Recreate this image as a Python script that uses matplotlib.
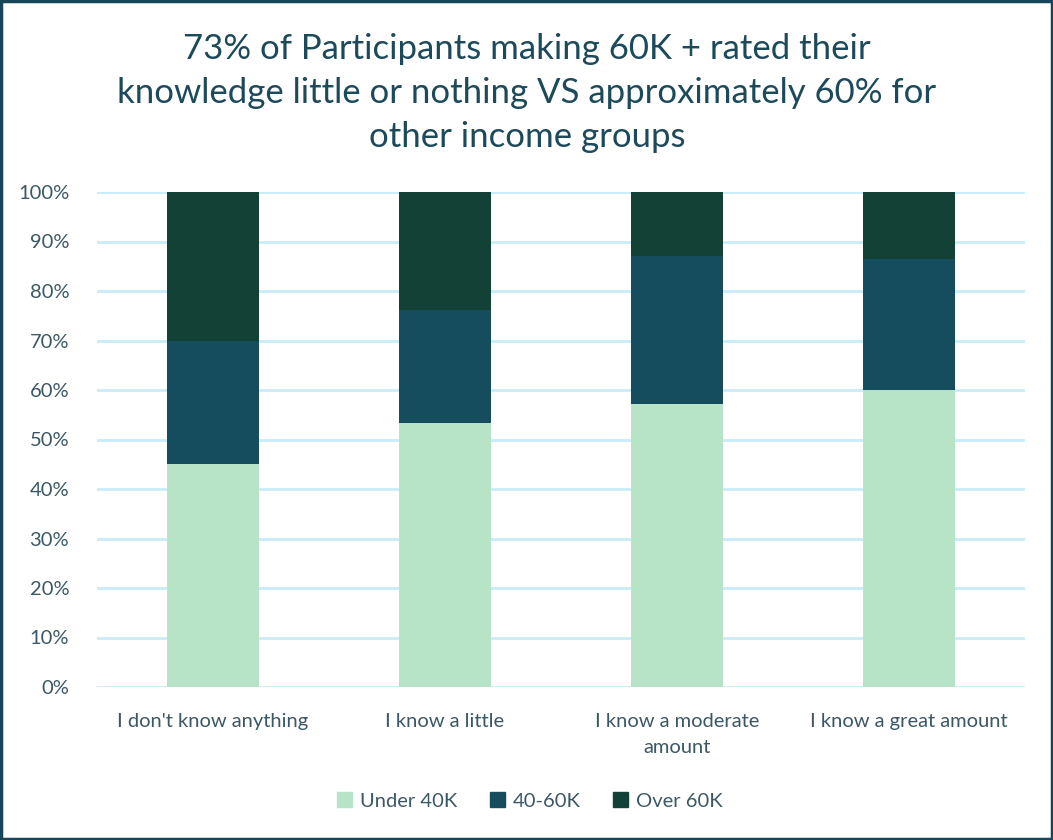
import matplotlib
matplotlib.use("Agg")
import matplotlib.pyplot as plt
import matplotlib.patches as mpatches
import numpy as np

categories = ["I don't know anything", "I know a little",
              "I know a moderate\namount", "I know a great amount"]
under_40k = [45.0, 53.3, 57.2, 60.0]
mid_40_60k = [25.0, 22.9, 29.9, 26.5]
over_60k = [30.0, 23.8, 12.9, 13.5]
series_names = ["Under 40K", "40-60K", "Over 60K"]

colors = ["#b7e4c7", "#154c5e", "#124236"]
text_color = "#3b5866"
title_color = "#1d4a5a"
grid_color = "#c8ecf9"

plt.rcParams["font.family"] = ["Lato", "DejaVu Sans"]

fig = plt.figure(figsize=(10.53, 8.4), dpi=100)
fig.patch.set_facecolor("white")
ax = fig.add_axes([97 / 1053, 1 - 687 / 840, 928 / 1053, 495 / 840])

x = np.arange(len(categories))
bottom = np.zeros(len(categories))
for vals, name, col in zip([under_40k, mid_40_60k, over_60k], series_names, colors):
    ax.bar(x, vals, width=0.4, bottom=bottom, color=col, label=name, zorder=2)
    bottom += np.array(vals)

ax.set_xlim(-0.5, 3.5)
ax.set_ylim(0, 100)
ax.set_yticks(np.arange(0, 101, 10))
ax.set_yticklabels([f"{v}%" for v in range(0, 101, 10)])
ax.set_xticks(x)
ax.set_xticklabels(categories, linespacing=1.6)
ax.yaxis.grid(True, color=grid_color, linewidth=2, zorder=0)
ax.set_axisbelow(True)
for s in ax.spines.values():
    s.set_visible(False)
ax.tick_params(length=0, labelsize=14.5, colors=text_color)
ax.tick_params(axis="y", pad=20)
ax.tick_params(axis="x", pad=19)

fig.text(527 / 1053, 1 - 93 / 840,
         "73% of Participants making 60K + rated their\n"
         "knowledge little or nothing VS approximately 60% for\n"
         "other income groups",
         ha="center", va="center", fontsize=25, color=title_color,
         linespacing=1.45)

handles = [mpatches.Patch(color=c, label=n) for c, n in zip(colors, series_names)]
fig.legend(handles=handles, loc="center", bbox_to_anchor=(530 / 1053, 1 - 801 / 840),
           ncol=3, frameon=False, fontsize=14.5, labelcolor=text_color,
           handlelength=0.75, handleheight=0.75, handletextpad=0.4, columnspacing=1.6)

border = mpatches.Rectangle((0.001, 0.001), 0.998, 0.998, transform=fig.transFigure,
                            fill=False, edgecolor="#17465a", linewidth=2.5)
fig.patches.append(border)

fig.savefig("out.png", dpi=100, facecolor="white")
